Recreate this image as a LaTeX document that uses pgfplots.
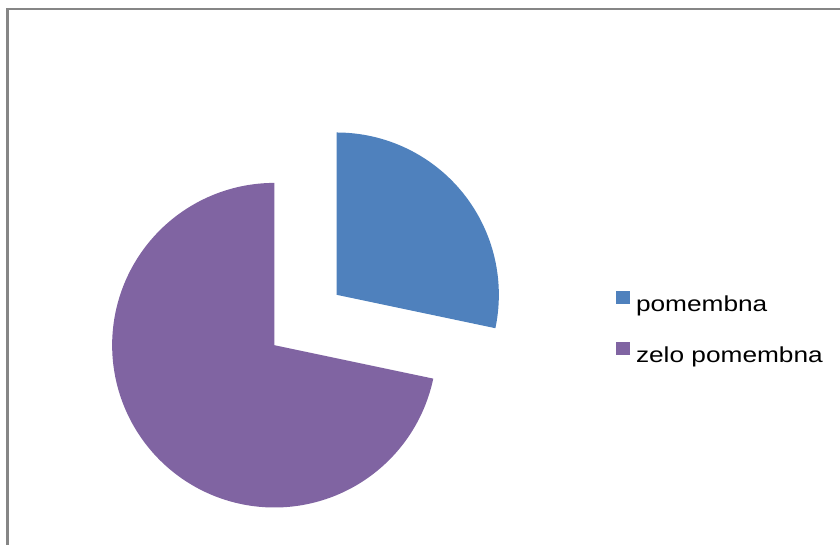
\documentclass[border=0pt]{standalone}
\usepackage{fontspec}
\setmainfont{Liberation Sans}
\newfontfamily\legfont[FakeStretch=1.21]{Liberation Sans}
\usepackage{pgfplots}
\usepackage{pgfplotstable}
\pgfplotsset{compat=1.18}
\definecolor{pieblue}{RGB}{79,129,189}
\definecolor{piepurple}{RGB}{128,100,162}
\definecolor{framegray}{RGB}{134,134,134}

\pgfplotstableread{
label value
pomembna 28.3
zelopomembna 71.7
}\piedata

\begin{document}
\begin{tikzpicture}
\pgfplotstablegetelem{0}{value}\of\piedata \let\va\pgfplotsretval
\pgfplotstablegetelem{1}{value}\of\piedata \let\vb\pgfplotsretval
\pgfmathsetmacro{\tot}{\va+\vb}
\pgfmathsetmacro{\aS}{90}
\pgfmathsetmacro{\aM}{90-360*\va/\tot}
\pgfmathsetmacro{\aE}{90-360}
\pgfmathsetmacro{\midA}{(\aS+\aM)/2}
\pgfmathsetmacro{\midB}{(\aM+\aE)/2}
\def\cx{305.5}\def\cy{225}\def\R{162.3}\def\ex{40}
\pgfmathsetmacro{\axc}{\cx+\ex*cos(\midA)}
\pgfmathsetmacro{\ayc}{\cy+\ex*sin(\midA)}
\pgfmathsetmacro{\bxc}{\cx+\ex*cos(\midB)}
\pgfmathsetmacro{\byc}{\cy+\ex*sin(\midB)}
\path[use as bounding box] (0,0) rectangle (840bp,545bp);
\begin{axis}[
  at={(0,0)}, anchor=origin,
  scale only axis, width=840bp, height=545bp,
  xmin=0, xmax=840, ymin=0, ymax=545,
  hide axis, clip=false,
  legend cell align=left,
  legend image code/.code={\fill[#1, draw=none] (0bp,1.9bp) rectangle (13.5bp,15.4bp);},
  legend style={at={(0.73333,0.46661)}, anchor=north west, draw=none, fill=none,
    inner sep=0pt, outer sep=0pt,
    font=\legfont\fontsize{21.7bp}{26bp}\selectfont,
    row sep=25.3bp, column sep=6.5bp,
    nodes={inner sep=0pt, outer sep=0pt, text height=16bp, text depth=5bp}},
]
\draw[framegray, line width=2bp] (axis cs:7.5,-20) -- (axis cs:7.5,535.5) -- (axis cs:860,535.5);
\addplot[fill=pieblue, draw=none, domain=\aM:\aS, samples=150, variable=\t]
  ({\axc+\R*cos(\t)},{\ayc+\R*sin(\t)}) -- (axis cs:\axc,\ayc) -- cycle;
\addlegendentry{pomembna}
\addplot[fill=piepurple, draw=none, domain=\aE:\aM, samples=300, variable=\t]
  ({\bxc+\R*cos(\t)},{\byc+\R*sin(\t)}) -- (axis cs:\bxc,\byc) -- cycle;
\addlegendentry{zelo pomembna}
\end{axis}
\end{tikzpicture}
\end{document}
